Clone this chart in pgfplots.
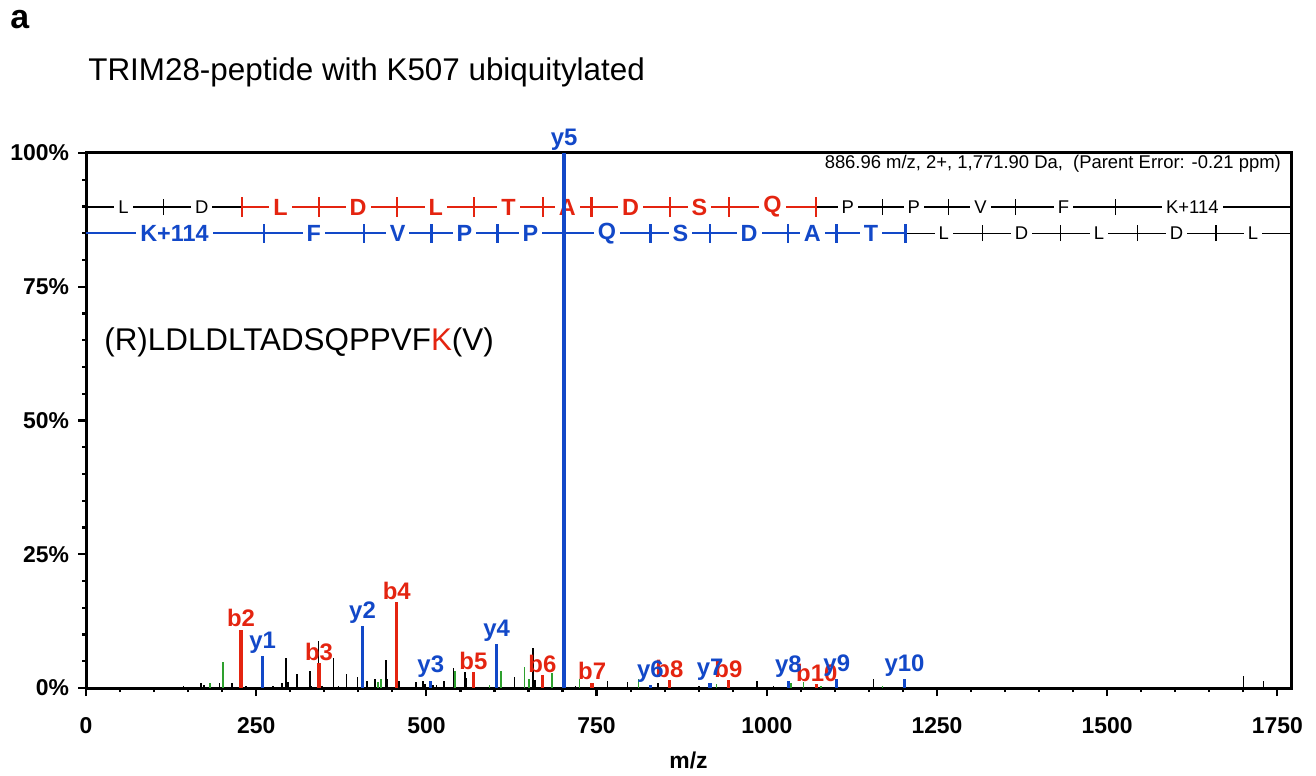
\documentclass[border=0pt]{standalone}
\usepackage{fontspec}
\setmainfont{Liberation Sans}
\usepackage{pgfplots}
\pgfplotsset{compat=1.18}
\definecolor{ionred}{RGB}{228,36,16}
\definecolor{ionblue}{RGB}{18,72,200}
\definecolor{iongreen}{RGB}{46,160,46}
\newcommand{\fs}[1]{\fontsize{#1}{#1}\selectfont}

% ladder helpers (b row at 89.9, y row at 85.0)
\newcommand{\ltick}[4]{\draw[#2] (axis cs:#1,#3) ++(0,-#4) -- ++(0,2*#4);}
\newcommand{\lchar}[4]{\node[fill=white, inner xsep=2bp, inner ysep=0.5bp, #2] at (axis cs:#1,#3) {#4};}

\begin{document}
\begin{tikzpicture}
\useasboundingbox (0,0) rectangle (658bp,388bp);
\node[anchor=west, inner sep=0, font=\bfseries\fs{17}] at (5bp,378bp) {a};
\node[anchor=west, inner sep=0, font=\fs{15.75}] at (44bp,352bp) {TRIM28-peptide with K507 ubiquitylated};

\begin{axis}[
  at={(43bp,44bp)}, anchor=south west,
  scale only axis, width=602.5bp, height=267.5bp,
  xmin=0, xmax=1770, ymin=0, ymax=100,
  clip=false,
  axis line style={line width=1.5bp},
  xtick={0,250,...,1750}, minor x tick num=4,
  ytick={0,25,...,100}, minor y tick num=4,
  tick align=outside, tick pos=left,
  major tick length=4bp, minor tick length=2bp,
  every tick/.style={black, line width=1.1bp},
  /pgf/number format/assume math mode=true,
  /pgf/number format/1000 sep={},
  yticklabel={\pgfmathprintnumber{\tick}\%},
  x tick label style={font=\bfseries\fs{11.5}, yshift=-7bp},
  y tick label style={font=\bfseries\fs{11.5}, xshift=-1bp},
  xlabel={m/z},
  xlabel style={font=\bfseries\fs{11.5}, at={(axis description cs:0.5,0)}, anchor=center, yshift=-36bp},
]

% b ladder
\draw[black, line width=0.6bp] (axis cs:0,89.9) -- (axis cs:229.12,89.9);
\draw[ionred, line width=1.2bp] (axis cs:229.12,89.9) -- (axis cs:1072.51,89.9);
\draw[black, line width=0.6bp] (axis cs:1072.51,89.9) -- (axis cs:1770,89.9);
\pgfplotsinvokeforeach{114.09,1169.57,1266.62,1365.69,1512.76}{\ltick{#1}{black, line width=0.6bp}{89.9}{4bp}}
\pgfplotsinvokeforeach{229.12,342.20,457.23,570.31,671.36,742.40,857.42,944.46,1072.51}{\ltick{#1}{ionred, line width=1.2bp}{89.9}{4.8bp}}
\lchar{55}{font=\fs{9.25}}{89.9}{L}
\lchar{170}{font=\fs{9.25}}{89.9}{D}
\lchar{285.7}{font=\bfseries\fs{11.75}, text=ionred}{89.9}{L}
\lchar{399.7}{font=\bfseries\fs{11.75}, text=ionred}{89.9}{D}
\lchar{513.8}{font=\bfseries\fs{11.75}, text=ionred}{89.9}{L}
\lchar{620.8}{font=\bfseries\fs{11.75}, text=ionred}{89.9}{T}
\lchar{706.9}{font=\bfseries\fs{11.75}, text=ionred}{89.9}{A}
\lchar{799.9}{font=\bfseries\fs{11.75}, text=ionred}{89.9}{D}
\lchar{900.9}{font=\bfseries\fs{11.75}, text=ionred}{89.9}{S}
\lchar{1008.5}{font=\bfseries\fs{11.75}, text=ionred}{89.9}{Q}
\lchar{1119}{font=\fs{9.25}}{89.9}{P}
\lchar{1216}{font=\fs{9.25}}{89.9}{P}
\lchar{1314}{font=\fs{9.25}}{89.9}{V}
\lchar{1436}{font=\fs{9.25}}{89.9}{F}
\lchar{1625}{font=\fs{9.25}}{89.9}{K+114}

% y ladder
\draw[ionblue, line width=1.2bp] (axis cs:0,85) -- (axis cs:1203.6,85);
\draw[black, line width=0.6bp] (axis cs:1203.6,85) -- (axis cs:1770,85);
\pgfplotsinvokeforeach{261.16,408.22,507.29,604.34,701.40,829.45,916.49,1031.51,1102.55,1203.60}{\ltick{#1}{ionblue, line width=1.2bp}{85}{4.8bp}}
\pgfplotsinvokeforeach{1316.68,1431.71,1544.79,1659.82}{\ltick{#1}{black, line width=0.6bp}{85}{4bp}}
\lchar{130}{font=\bfseries\fs{11.75}, text=ionblue}{85}{K+114}
\lchar{334.7}{font=\bfseries\fs{11.75}, text=ionblue}{85}{F}
\lchar{457.8}{font=\bfseries\fs{11.75}, text=ionblue}{85}{V}
\lchar{555.8}{font=\bfseries\fs{11.75}, text=ionblue}{85}{P}
\lchar{652.9}{font=\bfseries\fs{11.75}, text=ionblue}{85}{P}
\lchar{765.4}{font=\bfseries\fs{11.75}, text=ionblue}{85}{Q}
\lchar{873}{font=\bfseries\fs{11.75}, text=ionblue}{85}{S}
\lchar{974}{font=\bfseries\fs{11.75}, text=ionblue}{85}{D}
\lchar{1067}{font=\bfseries\fs{11.75}, text=ionblue}{85}{A}
\lchar{1153}{font=\bfseries\fs{11.75}, text=ionblue}{85}{T}
\lchar{1260}{font=\fs{9.25}}{85}{L}
\lchar{1374}{font=\fs{9.25}}{85}{D}
\lchar{1488}{font=\fs{9.25}}{85}{L}
\lchar{1602}{font=\fs{9.25}}{85}{D}
\lchar{1714}{font=\fs{9.25}}{85}{L}

% unassigned peaks
\addplot[ycomb, black, line width=0.85bp, mark=none] table {
x y
143 0.4
168.5 0.9
173 0.6
196 0.9
214.5 0.9
234.6 0.3
275 0.4
287.5 1.0
293.8 5.7
297 1.2
310.4 2.6
329 3.2
331 0.4
341.5 8.8
347 0.3
363.4 5.6
371 0.3
382.6 2.6
398.8 2.0
413 1.3
424.4 1.6
440.4 5.2
443 1.6
460 1.3
484.8 1.1
495.5 1.4
498 0.8
510 0.6
515 0.6
526 1.3
539.6 3.7
556.8 3.0
559 1.8
629.2 2.1
656.2 7.5
660 1.5
719 0.4
765.9 1.3
795.3 1.1
840 0.9
900 0.3
985.3 1.4
1010 0.3
1156.6 1.6
1300 0.2
1700.2 2.2
1729.6 1.4
};
\addplot[ycomb, iongreen, line width=0.85bp, mark=none] table {
x y
182 0.9
200.8 4.9
428.5 1.1
433 1.6
542 3.1
592.5 0.5
609.2 3.1
643.9 4.0
651 1.6
684.1 2.8
724.7 1.6
811.5 1.7
926 0.8
1036 0.9
1053.8 1.1
1080 0.4
1170 0.3
};
% b ions
\addplot[ycomb, ionred, line width=1.7bp, mark=none, nodes near coords, point meta=explicit symbolic,
  every node near coord/.append style={anchor=south, inner sep=0.5bp, font=\bfseries\fs{12}, text=ionred}]
  table[meta=lab] {
x y lab
227.7 10.9 b2
342.2 4.6 b3
456.4 16.0 b4
569 2.9 b5
670.4 2.4 b6
743.4 1.0 b7
857 1.5 b8
943.6 1.5 b9
1073.4 0.7 b10
};
% y ions
\addplot[ycomb, ionblue, line width=1.7bp, mark=none, nodes near coords, point meta=explicit symbolic,
  every node near coord/.append style={anchor=south, inner sep=0.5bp, font=\bfseries\fs{12}, text=ionblue}]
  table[meta=lab] {
x y lab
259.5 5.9 y1
406.2 11.6 y2
506.4 1.4 y3
603.3 8.2 y4
702.2 100 y5
829 0.6 y6
916.7 0.9 y7
1031.8 1.4 y8
1102.8 1.6 y9
1202.2 1.6 y10
};

\node[anchor=east, inner sep=0, font=\fs{9.25}] at (axis cs:1755.6,97.9) {886.96 m/z, 2+, 1,771.90 Da,\ \ (Parent Error: -0.21 ppm)};
\node[anchor=west, inner sep=0, font=\fs{15.75}] at (axis cs:26.4,64.6) {(R)LDLDLTADSQPPVF\textcolor{ionred}{K}(V)};
\end{axis}
\end{tikzpicture}
\end{document}
